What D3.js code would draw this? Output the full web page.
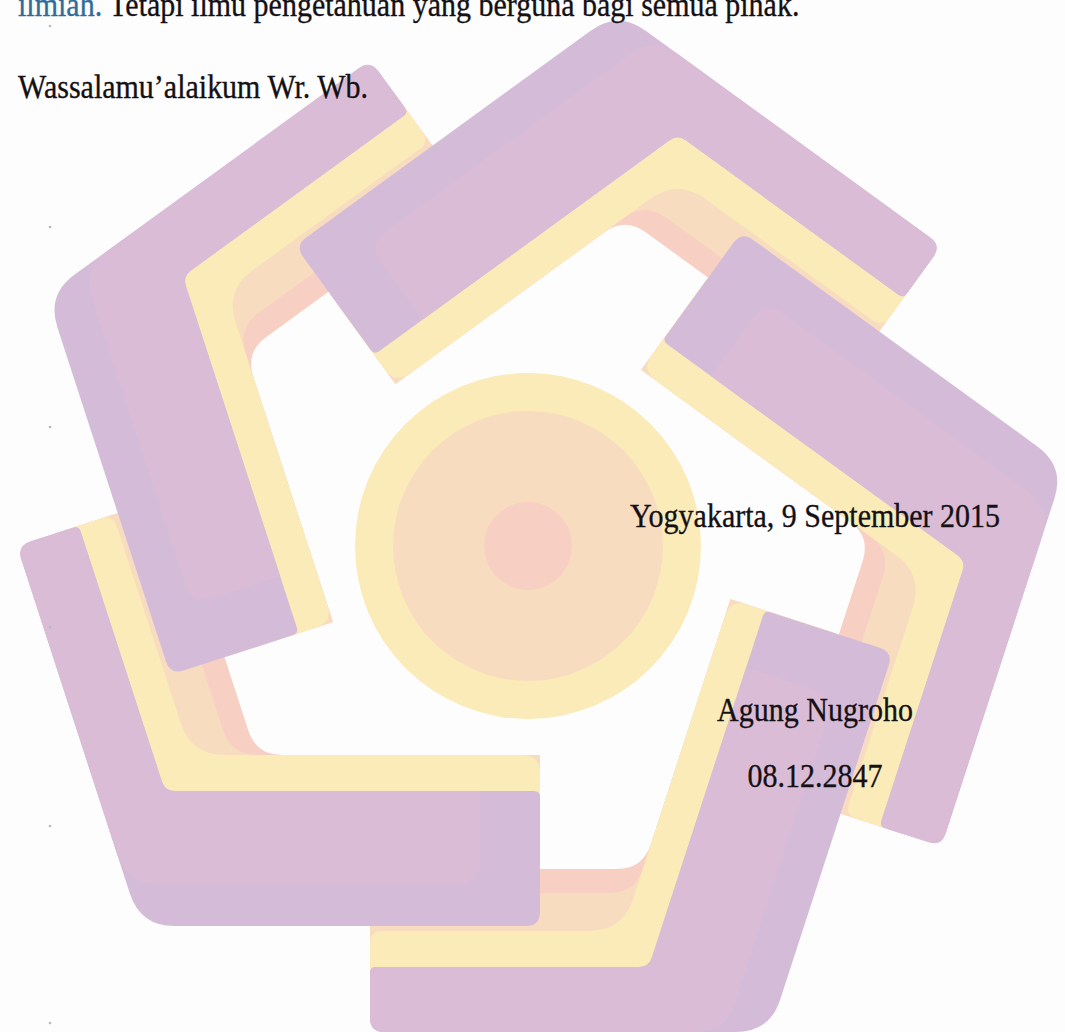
<!DOCTYPE html>
<html>
<head>
<meta charset="utf-8">
<script src="https://cdn.jsdelivr.net/npm/d3@7"></script>
<style>
  html, body { margin: 0; padding: 0; background: #fdfdfd; }
  svg { display: block; }
</style>
</head>
<body>
<script>
const W = 1065;
const H = 1032;
const cx = 528;
const cy = 546;

// logo: five bent arms, one per 72 degrees
const armIndex = [0, 1, 2, 3, 4];
const armStep = 72;
const sideDist = [380, 486];      // outer edge distance: start leg, end leg
const legCut = [12, -158];        // where the start leg and end leg are cut off
const purpleWidth = [135, 65];    // start leg, end leg
const innerBands = [36, 38, 24];  // yellow, peach, pink
const shadeInset = [42, 60];      // light purple inset: outer edge, start end

const circleR = [173, 135, 44];
const circleFill = ["#fbebb8", "#f8dcc0", "#f8cfc3"];

const col = {
  bg: "#fdfdfd",
  dark: "#d4bcd9",
  light: "#dabcd6",
  yellow: "#fbebb8",
  peach: "#f8dcc0",
  pink: "#f8cfc3",
  text: "#141014",
  link: "#2f6c9c",
  speck: "#b9b9b9"
};

const topLine = ["ilmiah.", " Tetapi ilmu pengetahuan yang berguna bagi semua pihak."];
const lines = [
  { text: "Wassalamu\u2019alaikum Wr. Wb.", x: 18, y: 98, anchor: "start" },
  { text: "Yogyakarta, 9 September 2015", x: 815, y: 527, anchor: "middle" },
  { text: "Agung Nugroho", x: 815, y: 721, anchor: "middle" },
  { text: "08.12.2847", x: 815, y: 787, anchor: "middle" }
];
const speckY = [26, 227, 427, 627, 826, 1023];

const svg = d3.select("body").append("svg")
  .attr("width", W).attr("height", H);

svg.append("rect").attr("width", W).attr("height", H).attr("fill", col.bg);

// ---- geometry helpers (arm 0 frame, origin at centre) ----
const rad = Math.PI / 180;
const s72 = Math.sin(armStep * rad), c72 = Math.cos(armStep * rad);

function corner(d0, d1) {
  return [(c72 * d0 - d1) / s72, d0];
}
function onEnd(d, tau) {
  return [-s72 * d + c72 * tau, c72 * d + s72 * tau];
}
function chevron(o0, i0, o1, i1, ts, te) {
  return [[ts, o0], corner(o0, o1), onEnd(o1, te), onEnd(i1, te), corner(i0, i1), [ts, i0]];
}

function roundedPath(pts, radii) {
  const p = d3.path();
  const n = pts.length;
  const dist = (a, b) => Math.hypot(a[0] - b[0], a[1] - b[1]);
  for (let i = 0; i < n; i++) {
    const prev = pts[(i - 1 + n) % n], cur = pts[i], next = pts[(i + 1) % n];
    const d1 = dist(cur, prev), d2 = dist(cur, next);
    const r1 = Math.min(radii[i], d1 / 2), r2 = Math.min(radii[i], d2 / 2);
    const a = [cur[0] + (prev[0] - cur[0]) * r1 / d1, cur[1] + (prev[1] - cur[1]) * r1 / d1];
    const b = [cur[0] + (next[0] - cur[0]) * r2 / d2, cur[1] + (next[1] - cur[1]) * r2 / d2];
    if (i === 0) p.moveTo(a[0], a[1]); else p.lineTo(a[0], a[1]);
    p.quadraticCurveTo(cur[0], cur[1], b[0], b[1]);
  }
  p.closePath();
  return p.toString();
}

const [D2, D1] = sideDist;
const [ts, te] = legCut;
const [wPs, wPe] = purpleWidth;
const [wY, wO, wK] = innerBands;
const yIn = D2 - wPs - wY;

const layers = [
  { fill: col.pink, pts: chevron(D2 - 60, yIn, D1 - 40, D1 - wPe - wY - wO - wK, ts, te), r: [0, 20, 0, 0, 26, 0] },
  { fill: col.peach, pts: chevron(D2 - 60, yIn, D1 - 40, D1 - wPe - wY - wO, ts, te), r: [0, 20, 0, 0, 26, 0] },
  { fill: col.yellow, pts: chevron(D2 - 60, yIn, D1 - 40, D1 - wPe - wY, ts, te), r: [0, 20, 0, 12, 34, 18] },
  { fill: col.dark, pts: chevron(D2, D2 - wPs, D1, D1 - wPe, ts, te), r: [14, 34, 14, 6, 10, 6] },
  { fill: col.light, pts: chevron(D2 - shadeInset[0], D2 - wPs, D1, D1 - wPe, ts - shadeInset[1], te), r: [22, 30, 14, 6, 10, 0] }
];

// ---- centre circles ----
svg.append("g").selectAll("circle")
  .data(circleR)
  .join("circle")
  .attr("cx", cx).attr("cy", cy)
  .attr("r", d => d)
  .attr("fill", (d, i) => circleFill[i]);

// ---- arms ----
function drawArm(parent, k) {
  const g = parent.append("g")
    .attr("transform", `translate(${cx},${cy}) rotate(${armStep * k})`);
  g.selectAll("path")
    .data(layers)
    .join("path")
    .attr("d", d => roundedPath(d.pts, d.r))
    .attr("fill", d => d.fill);
}

const logo = svg.append("g");
armIndex.forEach(k => drawArm(logo, k));

// first arm's start leg lies over the last arm, redraw it clipped
svg.append("clipPath").attr("id", "firstLeg")
  .append("rect")
  .attr("x", cx - 260).attr("y", cy + 180)
  .attr("width", 300).attr("height", 230);
drawArm(svg.append("g").attr("clip-path", "url(#firstLeg)"), armIndex[0]);

// ---- scan specks in the margin ----
svg.append("g").selectAll("circle")
  .data(speckY)
  .join("circle")
  .attr("cx", 50).attr("cy", d => d)
  .attr("r", 1.3)
  .attr("fill", col.speck);

// ---- text (the scan is a little taller than the font) ----
const stretch = 1.12;
const txt = svg.append("g")
  .style("font-family", "'Liberation Serif', 'Times New Roman', serif")
  .style("font-size", "30px");

const t0 = txt.append("text")
  .attr("transform", `translate(18,16) scale(1,${stretch})`)
  .attr("fill", col.text)
  .attr("stroke", col.text).attr("stroke-width", 0.3);
t0.append("tspan").attr("fill", col.link).attr("stroke", col.link).text(topLine[0]);
t0.append("tspan").text(topLine[1]);

txt.selectAll("text.line")
  .data(lines)
  .join("text")
  .attr("class", "line")
  .attr("transform", d => `translate(${d.x},${d.y}) scale(1,${stretch})`)
  .attr("text-anchor", d => d.anchor)
  .attr("fill", col.text)
  .attr("stroke", col.text)
  .attr("stroke-width", 0.3)
  .text(d => d.text);
</script>
</body>
</html>
